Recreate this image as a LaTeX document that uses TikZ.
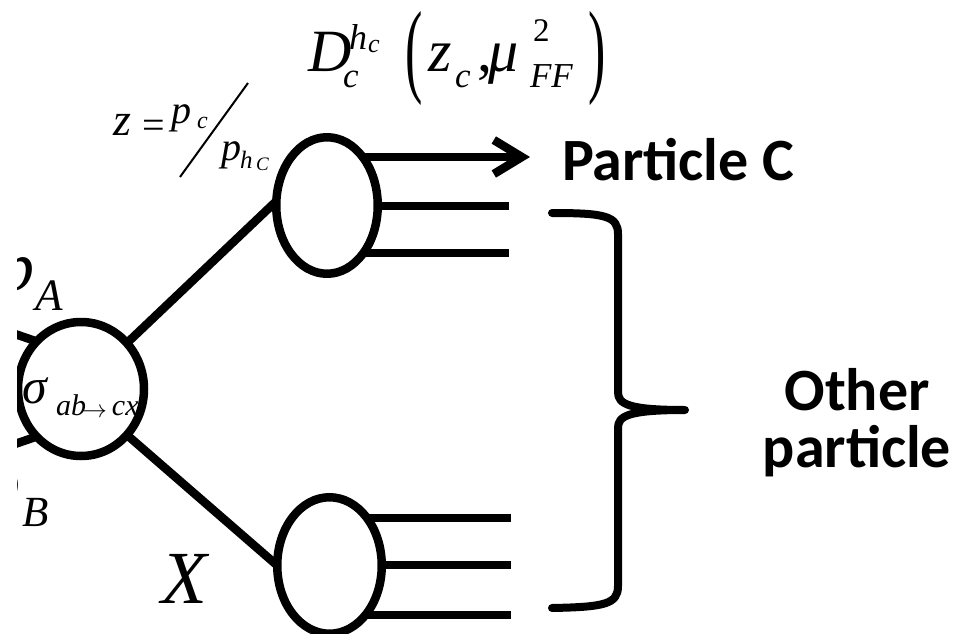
\documentclass[tikz,border=0pt]{standalone}
\usepackage{fontspec}
\usepackage{graphicx}
\setmainfont{Liberation Serif}
\newfontfamily\carlito{Carlito}
\usetikzlibrary{arrows.meta,shapes.geometric,backgrounds}
\newcommand\fs[1]{\fontsize{#1pt}{#1pt}\selectfont}
\newcommand\at[4]{\rlap{\kern#1pt\raisebox{#2pt}{\fs{#3}#4}}}
\newcommand\tallparen[1]{\scalebox{1}[2]{\fs{52}\upshape #1}}
\begin{document}
\begin{tikzpicture}[x=1pt,y=-1pt,
  lw/.style={line width=8.5pt},
  blob/.style={ellipse, draw, lw, fill=white, inner sep=0pt, outer sep=0pt},
  leg/.style={lw, line cap=butt},
  lab/.style={inner sep=0pt, outer sep=0pt},
  bold/.style={lab, font=\carlito\bfseries\fontsize{60pt}{57pt}\selectfont}]
\useasboundingbox (0,0) rectangle (961,634);
\clip (17,0) rectangle (961,634);
% blobs
\node[blob, minimum width=126pt, minimum height=134pt] (L) at (81,389) {};
\node[blob, minimum width=101.5pt, minimum height=136.5pt] (U) at (327,205.5) {};
\node[blob, minimum width=104.5pt, minimum height=136.5pt] (D) at (329.5,565.5) {};
% free ends
\coordinate (inA) at (-20,322);
\coordinate (inB) at (-20,456);
\coordinate (tipC) at (530,157);
\coordinate (u2) at (509,206);
\coordinate (u3) at (509,253);
\coordinate (d1) at (511,518);
\coordinate (d2) at (511,565);
\coordinate (d3) at (511,615);
\coordinate (s1) at (248,83);
\coordinate (s2) at (180,177);
\begin{pgfonlayer}{background}
\clip (17,0) rectangle (961,634);
\draw[leg] (inA) -- (L.133);
\draw[leg] (inB) -- (L.-133);
\draw[leg] (L.45) -- (U.175);
\draw[leg] (L.-45) -- (D.180);
\draw[leg, -{Straight Barb[length=28pt,width=34pt]}] (U.center |- tipC) -- (tipC);
\draw[leg] (U.center |- u2) -- (u2);
\draw[leg] (U.center |- u3) -- (u3);
\draw[leg] (D.center |- d1) -- (d1);
\draw[leg] (D.center |- d2) -- (d2);
\draw[leg] (D.center |- d3) -- (d3);
\end{pgfonlayer}
% brace
\draw[line width=8pt, line cap=round, line join=round]
  (552,213) .. controls (605,213) and (618,216) .. (618,234) -- (618,392)
  .. controls (618,404) and (628,410) .. (685,410)
  .. controls (628,410) and (618,416) .. (618,428) -- (618,586)
  .. controls (618,604) and (605,607) .. (552,608);
% slash of the fraction
\draw[line width=2pt] (s1) -- (s2);
% labels
\node[lab, anchor=base west] (sig) at (23,403)
  {\makebox[117pt][l]{\at{0}{0}{50}{\itshape σ}\at{33}{-12}{30}{\itshape ab}%
   \at{59}{-14}{34}{$\rightarrow$}\at{89}{-12}{30}{\itshape cx}}};
\node[lab, anchor=base west] (pA) at (-1,290)
  {\makebox[63pt][l]{\at{0}{0}{70}{\itshape p}\at{36}{-20}{45}{\itshape A}}};
\node[lab, anchor=base west] (pB) at (-14,506)
  {\makebox[61pt][l]{\at{0}{0}{70}{\itshape p}\at{36}{-20}{43}{\itshape B}}};
\node[lab, anchor=base west] (X) at (161,603) {\fs{75}\itshape X};
\node[lab, anchor=base west] (Z) at (113,135)
  {\makebox[160pt][l]{\at{0}{0}{46}{\itshape z}\at{29}{-3}{40}{=}%
   \at{58}{12}{40}{\itshape p}\at{84}{7}{24}{\itshape c}%
   \at{108}{-25}{40}{\itshape p}\at{127}{-33}{25}{\itshape h}\at{143}{-35}{19}{\itshape C}}};
\node[lab, anchor=base west] (F) at (308,72)
  {\makebox[296pt][l]{\at{0}{0}{60}{\itshape D}\at{41}{22}{36}{\itshape h}\at{60}{19}{26}{\itshape c}%
   \at{35}{-16}{35}{\itshape c}%
   \at{97}{-12}{52}{\tallparen{(}}%
   \at{120}{0}{60}{\itshape z}\at{147}{-16}{35}{\itshape c}\at{169}{0}{60}{,}%
   \at{180}{0}{60}{\itshape μ}\at{225}{30}{33}{2}\at{222}{-16}{35}{\itshape FF}%
   \at{280}{-12}{52}{\tallparen{)}}}};
\node[bold, anchor=base west] (PC) at (562,180) {Particle C};
\node[bold, align=center] (OP) at (857,423) {Other\\particle};
\end{tikzpicture}
\end{document}
